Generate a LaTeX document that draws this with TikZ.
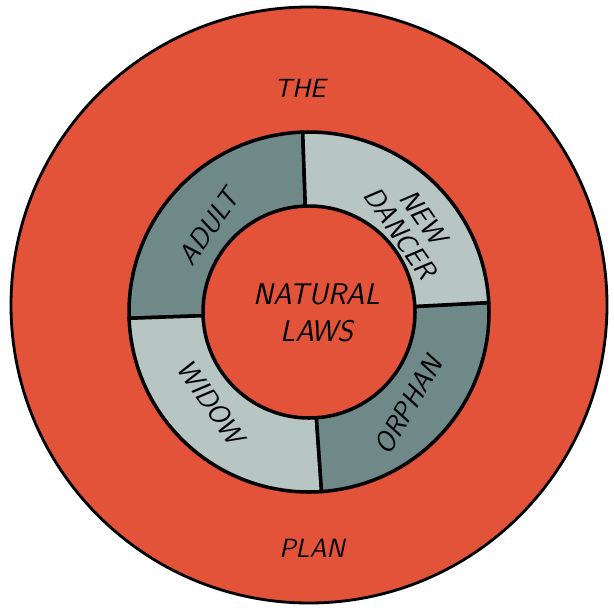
\documentclass[tikz,border=0pt]{standalone}
\definecolor{planred}{HTML}{E3533A}
\definecolor{darkseg}{HTML}{6F8888}
\definecolor{lightseg}{HTML}{B7C5C3}
\begin{document}
\begin{tikzpicture}[x=1cm, y=1cm,
  word/.style={font=\sffamily\slshape\fontsize{16}{16}\selectfont, align=center, inner sep=0pt}]
\useasboundingbox (0,0) rectangle (12.28,12.2);
\filldraw[fill=planred, line width=1.6pt] (6.18,6.10) circle (5.96);
\begin{scope}[shift={(6.18,5.96)}]
\foreach \a/\b/\c in {92/182/darkseg, 182/274/lightseg, 274/363/darkseg, 3/92/lightseg}
  \filldraw[fill=\c, line width=2pt, line join=round]
    (\a:3.6) arc[start angle=\a, end angle=\b, radius=3.6] -- (\b:2.12)
    arc[start angle=\b, end angle=\a, radius=2.12] -- cycle;
\end{scope}
\node[word, font=\sffamily\slshape\fontsize{15}{15}\selectfont] (the) at (6.0,10.44) {THE};
\node[word, font=\sffamily\slshape\fontsize{15}{15}\selectfont] (plan) at (6.24,1.24) {PLAN};
\node[word, font=\sffamily\slshape\fontsize{17}{21}\selectfont] (laws) at (6.33,5.94) {NATURAL\\LAWS};
\node[word, rotate=55] (adult) at (4.18,7.66) {ADULT};
\node[word, rotate=-55] (newdancer) at (8.24,7.7) {NEW\\DANCER};
\node[word, rotate=-55] (widow) at (4.22,4.16) {WIDOW};
\node[word, rotate=60] (orphan) at (8.16,4.1) {ORPHAN};
\end{tikzpicture}
\end{document}
